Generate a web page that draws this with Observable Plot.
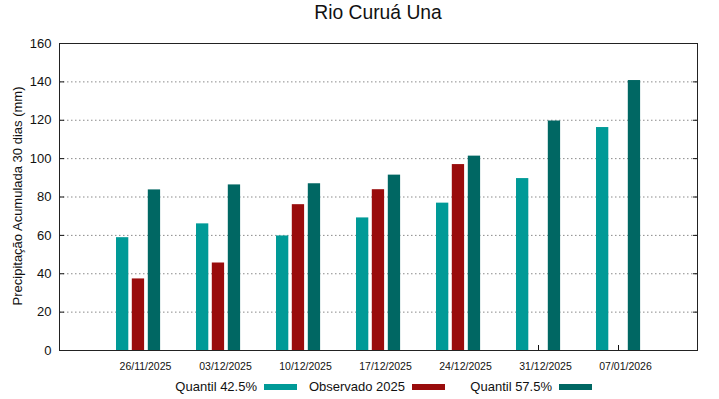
<!DOCTYPE html>
<html><head><meta charset="utf-8">
<script src="https://cdn.jsdelivr.net/npm/d3@7"></script>
<script src="https://cdn.jsdelivr.net/npm/@observablehq/plot@0.6"></script>
<style>
body{margin:0;background:#fff;font-family:"Liberation Sans",Arial,sans-serif;color:#111;}
#wrap{position:relative;width:719px;height:399px;overflow:hidden;background:#fff;}
#chart{position:absolute;left:0;top:0;}
#title{position:absolute;left:378px;top:2px;transform:translateX(-50%);font-size:19.3px;white-space:nowrap;}
#ylabel{position:absolute;left:17px;top:196px;transform:translate(-50%,-50%) rotate(-90deg);font-size:13px;white-space:nowrap;}
.lg-text{position:absolute;top:379px;font-size:13px;white-space:nowrap;transform:translateX(-100%);}
.lg-sw{position:absolute;top:384px;width:33px;height:6px;}
</style>
</head><body>
<div id="wrap">
  <div id="chart"></div>
  <div id="title">Rio Curuá Una</div>
  <div id="ylabel">Precipitação Acumulada 30 dias (mm)</div>
</div>
<script>
const dates = ["26/11/2025","03/12/2025","10/12/2025","17/12/2025","24/12/2025","31/12/2025","07/01/2026"];
const q425 = [58.8, 66.0, 59.7, 69.1, 76.8, 89.6, 116.2];
const obs2025 = [37.3, 45.6, 76.0, 83.8, 96.9, null, null];
const q575 = [83.7, 86.3, 86.9, 91.4, 101.3, 119.6, 140.7];
const seriesNames = ["Quantil 42.5%", "Observado 2025", "Quantil 57.5%"];
const yTicks = [0, 20, 40, 60, 80, 100, 120, 140, 160];

const colors = ["#009a97", "#990c0c", "#006763"];
const insets = [[18, 49.7], [33.8, 33.9], [49.8, 17.9]];
const seriesValues = [q425, obs2025, q575];

const rows = seriesValues.map(vals =>
  dates.map((d, i) => ({date: d, value: vals[i]})).filter(r => r.value != null)
);

const plot = Plot.plot({
  width: 719, height: 399,
  marginTop: 43, marginBottom: 49, marginLeft: 59, marginRight: 22,
  style: {fontFamily: "Liberation Sans, Arial, sans-serif", background: "transparent", color: "#111"},
  x: {type: "band", domain: dates, paddingInner: 0, paddingOuter: 0.4875, label: null},
  y: {domain: [0, 160], label: null},
  marks: [
    Plot.gridY(yTicks.slice(1, -1), {stroke: "#8a8a8a", strokeOpacity: 1, strokeDasharray: "1.5,2.5"}),
    Plot.axisY(yTicks, {tickSize: 0, tickPadding: 8, fontSize: 13, label: null}),
    Plot.axisY(yTicks, {anchor: "left", tickSize: -5, tickFormat: () => "", label: null}),
    Plot.axisY(yTicks, {anchor: "right", tickSize: -5, tickFormat: () => "", label: null}),
    Plot.axisX({tickSize: 0, tickPadding: 12, fontSize: 10.5, dx: 7, label: null}),
    Plot.axisX({tickSize: -5, tickFormat: () => "", label: null}),
    ...rows.map((data, k) => Plot.barY(data, {
      x: "date", y: "value", fill: colors[k],
      insetLeft: insets[k][0], insetRight: insets[k][1]
    })),
    Plot.frame({stroke: "#222", strokeWidth: 1})
  ]
});
document.getElementById("chart").appendChild(plot);

const wrap = document.getElementById("wrap");
const swLeft = [264, 412, 559];
seriesNames.forEach((name, k) => {
  const t = document.createElement("div");
  t.className = "lg-text";
  t.style.left = (swLeft[k] - 7) + "px";
  t.textContent = name;
  wrap.appendChild(t);
  const s = document.createElement("div");
  s.className = "lg-sw";
  s.style.left = swLeft[k] + "px";
  s.style.background = colors[k];
  wrap.appendChild(s);
});
</script>
</body></html>
